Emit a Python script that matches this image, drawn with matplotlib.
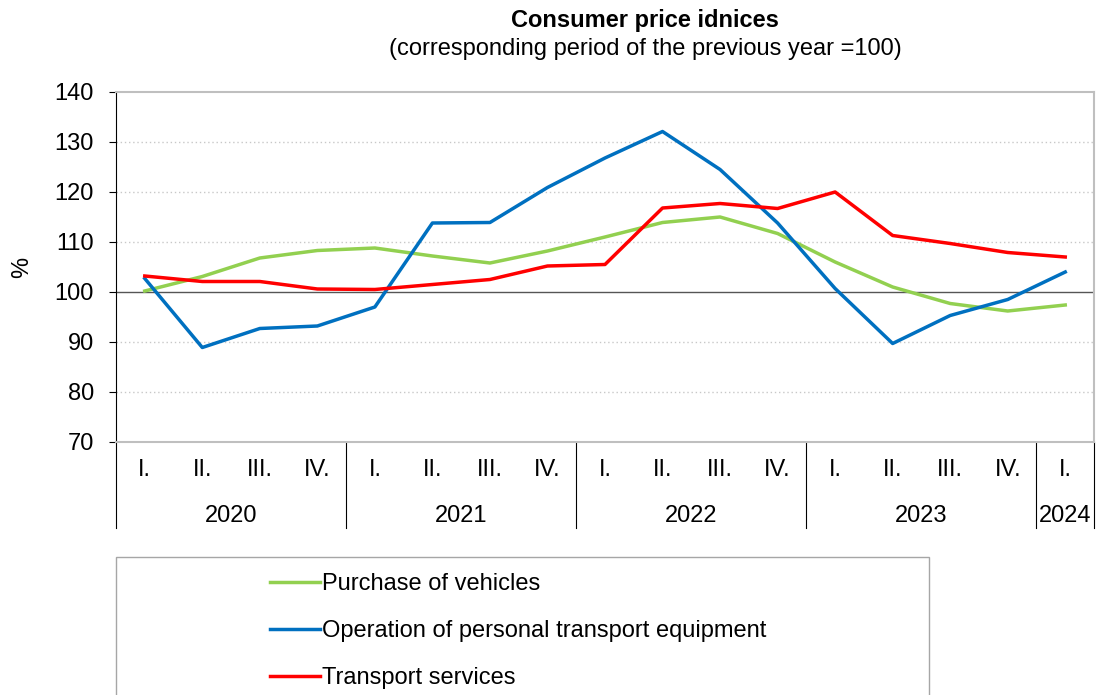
import matplotlib.pyplot as plt
from matplotlib.patches import Rectangle
from matplotlib.transforms import blended_transform_factory

plt.rcParams['font.family'] = ['Liberation Sans', 'DejaVu Sans']

# quarterly data, corresponding period of previous year = 100
quarters = ["I.", "II.", "III.", "IV.", "I.", "II.", "III.", "IV.",
            "I.", "II.", "III.", "IV.", "I.", "II.", "III.", "IV.", "I."]
years = ["2020", "2021", "2022", "2023", "2024"]
year_len = [4, 4, 4, 4, 1]

purchase = [100.2, 103.1, 106.8, 108.3, 108.8, 107.2, 105.8, 108.2,
            111.0, 113.9, 115.0, 111.7, 106.0, 101.0, 97.7, 96.2, 97.4]
operation = [102.7, 88.9, 92.7, 93.2, 97.0, 113.8, 113.9, 120.9,
             126.8, 132.1, 124.5, 113.8, 100.7, 89.7, 95.3, 98.5, 104.0]
services = [103.2, 102.1, 102.1, 100.6, 100.5, 101.5, 102.5, 105.2,
            105.5, 116.8, 117.7, 116.7, 120.0, 111.3, 109.7, 107.9, 107.0]

fs = 17

fig = plt.figure(figsize=(10.97, 6.95), dpi=100)
ax = fig.add_axes([116 / 1097, 1 - 442 / 695, 978 / 1097, 350 / 695])

x = list(range(len(quarters)))
ax.plot(x, purchase, color='#92D050', lw=2.5, label='Purchase of vehicles')
ax.plot(x, operation, color='#0070C0', lw=2.5, label='Operation of personal transport equipment')
ax.plot(x, services, color='#FF0000', lw=2.5, label='Transport services')

ax.set_xlim(-0.5, len(quarters) - 0.5)
ax.set_ylim(70, 140)
ax.set_yticks(range(70, 141, 10))
ax.tick_params(axis='y', labelsize=fs, length=5, pad=11, direction='out', color='black')
for v in [80, 90, 110, 120, 130]:
    ax.axhline(v, color='#C8C8C8', lw=1, ls=(0, (1, 2)), zorder=0)
ax.axhline(100, color='#555555', lw=1, zorder=1)

for s in ['top', 'right', 'bottom']:
    ax.spines[s].set_color('#BFBFBF')
    ax.spines[s].set_linewidth(1.5)
ax.spines['left'].set_color('black')

ax.set_xticks(x)
ax.set_xticklabels(quarters, fontsize=fs)
ax.tick_params(axis='x', length=0, pad=12)

# year labels and separators below the axis
trans = blended_transform_factory(ax.transData, ax.transAxes)
start = -0.5
bounds = [start]
for yr, n in zip(years, year_len):
    ax.text(start + n / 2, -0.212, yr, transform=trans, ha='center', va='center', fontsize=fs)
    start += n
    bounds.append(start)
for b in bounds:
    ax.plot([b, b], [0, -0.246], transform=trans, color='black', lw=0.8, clip_on=False)

ax.set_ylabel('%', fontsize=fs)
ax.yaxis.set_label_coords(-0.085, 0.5)

fig.text(645 / 1097, 1 - 20 / 695, 'Consumer price idnices', ha='center', va='center',
         fontsize=fs, fontweight='bold')
fig.text(645 / 1097, 1 - 49 / 695, '(corresponding period of the previous year =100)',
         ha='center', va='center', fontsize=fs)

# legend box (cut off at the bottom)
fig.patches.append(Rectangle((116 / 1097, -0.05), (929 - 116) / 1097, (695 - 557) / 695 + 0.05,
                             transform=fig.transFigure, fill=False, edgecolor='#A6A6A6', lw=1))
fig.legend(loc='upper left', bbox_to_anchor=(249 / 1097, 1 - 552 / 695), frameon=False,
           fontsize=fs, handlelength=2.1, handletextpad=0.1, labelspacing=1.06)

fig.savefig('out.png', dpi=100)
